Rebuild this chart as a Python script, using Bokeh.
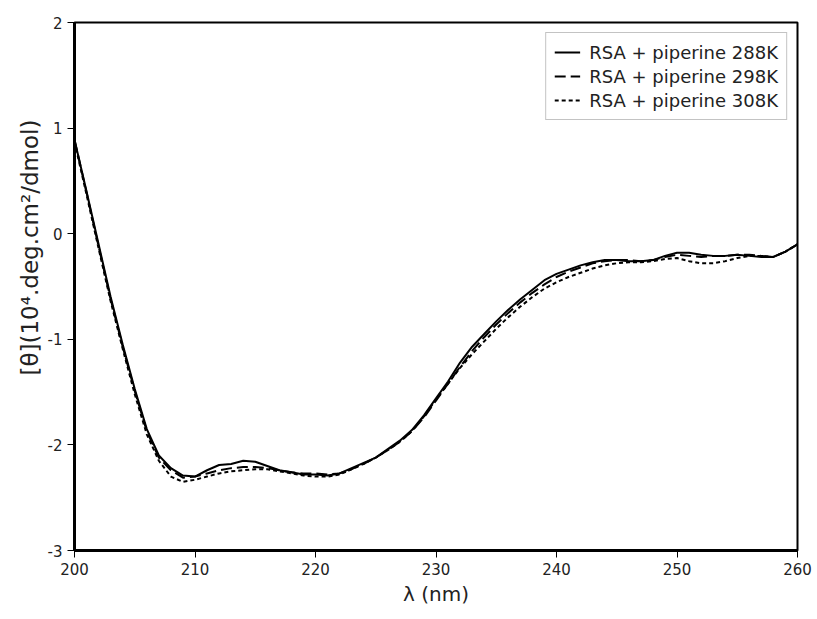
from bokeh.plotting import figure
from bokeh.models import FixedTicker, Range1d, Legend, LegendItem, PrintfTickFormatter, Title
from bokeh.embed import file_html
from bokeh.resources import INLINE

wavelength = list(range(200, 261))

cd_288K = [0.89, 0.40, -0.10, -0.60, -1.05, -1.47, -1.85, -2.10, -2.22, -2.29,
           -2.30, -2.24, -2.19, -2.18, -2.15, -2.16, -2.20, -2.24, -2.26, -2.28,
           -2.28, -2.29, -2.27, -2.22, -2.17, -2.12, -2.04, -1.96, -1.86, -1.72,
           -1.56, -1.40, -1.22, -1.07, -0.95, -0.83, -0.72, -0.62, -0.53, -0.44,
           -0.38, -0.34, -0.30, -0.27, -0.25, -0.25, -0.26, -0.26, -0.25, -0.21,
           -0.18, -0.18, -0.20, -0.21, -0.21, -0.20, -0.21, -0.22, -0.22, -0.17,
           -0.10]

cd_298K = [0.89, 0.39, -0.12, -0.62, -1.07, -1.49, -1.87, -2.12, -2.24, -2.31,
           -2.30, -2.27, -2.24, -2.22, -2.21, -2.21, -2.22, -2.24, -2.26, -2.27,
           -2.27, -2.28, -2.27, -2.23, -2.18, -2.12, -2.05, -1.97, -1.87, -1.74,
           -1.58, -1.42, -1.26, -1.11, -0.98, -0.86, -0.75, -0.65, -0.56, -0.48,
           -0.41, -0.36, -0.32, -0.28, -0.26, -0.25, -0.25, -0.26, -0.25, -0.22,
           -0.20, -0.21, -0.22, -0.21, -0.21, -0.20, -0.20, -0.21, -0.22, -0.17,
           -0.10]

cd_308K = [0.87, 0.37, -0.14, -0.64, -1.09, -1.52, -1.90, -2.15, -2.30, -2.35,
           -2.33, -2.30, -2.27, -2.25, -2.24, -2.23, -2.23, -2.25, -2.27, -2.29,
           -2.30, -2.30, -2.28, -2.23, -2.18, -2.12, -2.05, -1.97, -1.87, -1.73,
           -1.57, -1.42, -1.27, -1.14, -1.02, -0.90, -0.79, -0.69, -0.60, -0.52,
           -0.46, -0.41, -0.37, -0.33, -0.30, -0.28, -0.27, -0.27, -0.26, -0.24,
           -0.23, -0.26, -0.28, -0.28, -0.26, -0.23, -0.21, -0.21, -0.22, -0.17,
           -0.10]

series_labels = ["RSA + piperine 288K", "RSA + piperine 298K", "RSA + piperine 308K"]
x_ticks = [200, 210, 220, 230, 240, 250, 260]
y_ticks = [-3, -2, -1, 0, 1, 2]
x_title = "λ (nm)"
y_title = "[θ](10⁴.deg.cm²/dmol)"

FONT = "DejaVu Sans"

p = figure(width=817, height=619, output_backend="svg", toolbar_location=None,
           x_range=Range1d(200, 260), y_range=Range1d(-3, 2),
           min_border_left=74, min_border_right=20, min_border_top=22,
           min_border_bottom=69)
p.xgrid.visible = False
p.ygrid.visible = False
p.outline_line_color = "black"
p.outline_line_width = 2
p.outline_line_alpha = 1.0

r1 = p.line(wavelength, cd_288K, line_color="black", line_width=2)
r2 = p.line(wavelength, cd_298K, line_color="black", line_width=2, line_dash="11 5")
r3 = p.line(wavelength, cd_308K, line_color="black", line_width=2, line_dash="4 3")

for ax in (p.xaxis[0], p.yaxis[0]):
    ax.axis_line_width = 3
    ax.axis_line_color = "black"
    ax.major_tick_out = 7
    ax.major_tick_in = 0
    ax.major_tick_line_width = 1
    ax.minor_tick_line_color = None
    ax.major_label_text_font = FONT
    ax.major_label_text_font_size = "15px"
    ax.major_label_text_color = "#222222"
    ax.axis_label_text_font = FONT
    ax.axis_label_text_font_style = "normal"
    ax.axis_label_text_color = "#222222"
    ax.formatter = PrintfTickFormatter(format="%d")

p.xaxis.ticker = FixedTicker(ticks=x_ticks)
p.yaxis.ticker = FixedTicker(ticks=y_ticks)
p.xaxis.axis_label = x_title
p.xaxis.axis_label_text_font_size = "20px"
p.xaxis.axis_label_standoff = 4

# y title as a side title, starting partway up so it sits above the frame centre
ytitle = Title(text=y_title, align="left", offset=175, standoff=3,
               text_font=FONT, text_font_size="23px", text_font_style="normal",
               text_color="#222222")
p.add_layout(ytitle, "left")

legend = Legend(items=[LegendItem(label=series_labels[0], renderers=[r1]),
                       LegendItem(label=series_labels[1], renderers=[r2]),
                       LegendItem(label=series_labels[2], renderers=[r3])],
                location="top_right")
legend.margin = 10
legend.padding = 8
legend.spacing = 2
legend.label_text_font = FONT
legend.label_text_font_size = "18px"
legend.label_text_color = "#222222"
legend.label_height = 22
legend.glyph_height = 22
legend.glyph_width = 26
legend.label_standoff = 9
legend.border_line_color = "#888888"
legend.border_line_width = 1.5
legend.background_fill_color = "white"
p.add_layout(legend)

open("out.html", "w").write(file_html(p, INLINE))
